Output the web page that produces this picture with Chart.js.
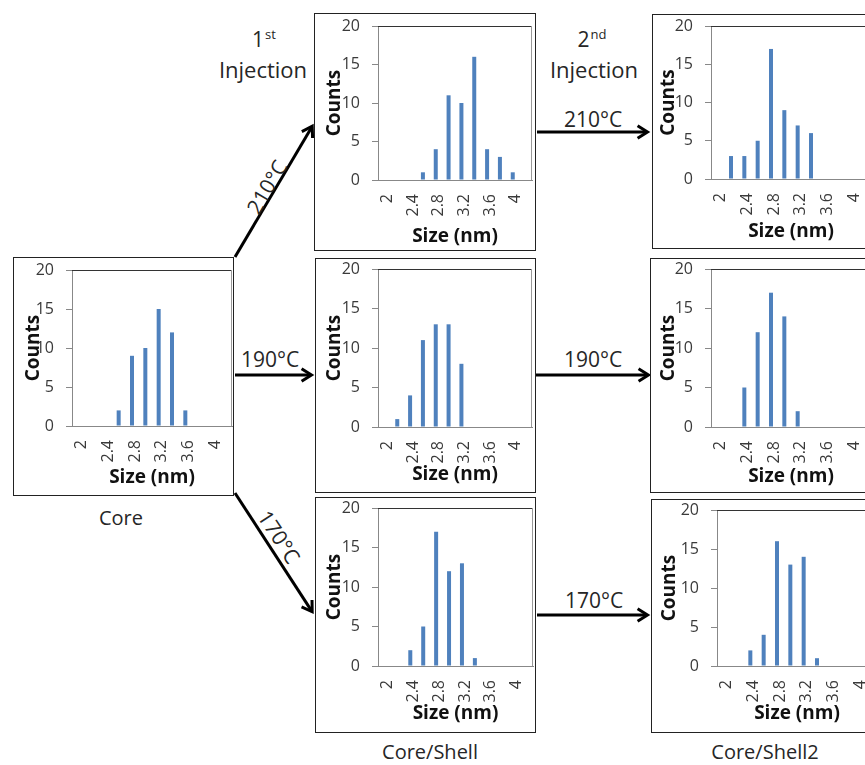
<!DOCTYPE html>
<html><head><meta charset="utf-8">
<script src="https://cdn.jsdelivr.net/npm/chart.js@4.4.0/dist/chart.umd.min.js"></script>
<style>
html,body{margin:0;padding:0;background:#fff;width:865px;height:765px;overflow:hidden;position:relative;font-family:"Open Sans",sans-serif;}
.box{position:absolute;border:1px solid #222;box-sizing:border-box;background:#fff;overflow:hidden;}
.box canvas{position:absolute;left:0;top:0;}
.lbl{position:absolute;transform:translate(-50%,-50%);white-space:nowrap;line-height:1;color:#262626;font-size:20px;}
.lbl sup{font-size:13px;vertical-align:0;position:relative;top:-8px;margin-left:1px;}
#arrows{position:absolute;left:0;top:0;}
</style></head><body>
<svg id="arrows" width="865" height="765"></svg>
<script>
// ---------- data ----------
const sizeCategories = ['2','2.2','2.4','2.6','2.8','3','3.2','3.4','3.6','3.8','4','4.2'];
const sizeTickLabels = ['2','','2.4','','2.8','','3.2','','3.6','','4',''];
const countMin = 0, countMax = 20, countStep = 5;
const coreCounts        = [0,0,0,2,9,10,15,12,2,0,0,0];
const shell210Counts    = [0,0,0,1,4,11,10,16,4,3,1,0];
const shell190Counts    = [0,1,4,11,13,13,8,0,0,0,0,0];
const shell170Counts    = [0,0,2,5,17,12,13,1,0,0,0,0];
const shell2_210Counts  = [0,3,3,5,17,9,7,6,0,0,0,0];
const shell2_190Counts  = [0,0,5,12,17,14,2,0,0,0,0,0];
const shell2_170Counts  = [0,0,2,4,16,13,14,1,0,0,0,0];
const xTitle = 'Size (nm)';
const yTitle = 'Counts';

// ---------- layout (page pixels) ----------
const panels = [
  {data: coreCounts,       box:[13,257,221,239], plot:[72,270,232,426],  yTitleX:33.5, xTitleY:478},
  {data: shell210Counts,   box:[314,13,222,238], plot:[378,26,532,180],  yTitleX:335,  xTitleY:237},
  {data: shell190Counts,   box:[315,258,221,235],plot:[378,269,532,427], yTitleX:335,  xTitleY:475},
  {data: shell170Counts,   box:[315,497,221,236],plot:[378,508,533,666], yTitleX:335,  xTitleY:714},
  {data: shell2_210Counts, box:[652,14,232,235], plot:[711,26,871,179],  yTitleX:669,  xTitleY:232},
  {data: shell2_190Counts, box:[650,258,232,235],plot:[711,269,871,427], yTitleX:669,  xTitleY:477},
  {data: shell2_170Counts, box:[651,499,232,234],plot:[717,510,877,666], yTitleX:670,  xTitleY:714}
];

const frame = {
  id:'frame',
  afterDatasetsDraw(chart){
    const {ctx, chartArea:{left,top,right,bottom}} = chart;
    ctx.save();
    ctx.lineWidth = 1;
    ctx.strokeStyle = '#333';
    ctx.beginPath(); ctx.moveTo(left, top+0.5); ctx.lineTo(right, top+0.5); ctx.stroke();
    ctx.strokeStyle = '#999';
    ctx.beginPath(); ctx.moveTo(right-0.5, top); ctx.lineTo(right-0.5, bottom); ctx.stroke();
    ctx.restore();
  }
};

panels.forEach(p => {
  const [bx,by,bw,bh] = p.box;
  const [L,T,R,B] = p.plot;
  const div = document.createElement('div');
  div.className = 'box';
  div.style.left = bx+'px'; div.style.top = by+'px';
  div.style.width = bw+'px'; div.style.height = bh+'px';
  const cv = document.createElement('canvas');
  const cx = bx+1, cy = by+1, cw = bw-2, ch = bh-2;
  cv.width = cw; cv.height = ch;
  div.appendChild(cv);
  document.body.appendChild(div);
  const yW = L - cx;
  const xH = (cy+ch) - B;
  const yLh = 19*1.2, xLh = 19*1.2;
  new Chart(cv, {
    type:'bar',
    data:{labels:sizeCategories, datasets:[{data:p.data, backgroundColor:'#4F81BD', borderWidth:0, barThickness:4, inflateAmount:0}]},
    options:{
      responsive:false, animation:false, devicePixelRatio:1,
      layout:{padding:{left:0, top:T-cy, right:(cx+cw)-R, bottom:0}},
      plugins:{legend:{display:false}, tooltip:{enabled:false}},
      scales:{
        x:{
          grid:{display:true, drawOnChartArea:false, drawTicks:false},
          border:{display:true, color:'#888', width:1},
          ticks:{autoSkip:false, minRotation:90, maxRotation:90, padding:14, labelOffset:3,
                 color:'#3a3a3a', font:{family:'Open Sans', size:16},
                 callback:(v,i)=>sizeTickLabels[i]},
          title:{display:true, text:xTitle, color:'#111', font:{family:'Open Sans', size:19, weight:'bold', lineHeight:1.2},
                 padding:{top:0, bottom:(cy+ch) - p.xTitleY - xLh/2}},
          afterFit:(s)=>{ s.height = xH; s.paddingLeft = 0; s.paddingRight = 0; }
        },
        y:{
          min:countMin, max:countMax,
          grid:{display:true, drawOnChartArea:false, drawTicks:true, tickLength:6, color:'#888'},
          border:{display:true, color:'#888', width:1},
          ticks:{stepSize:countStep, padding:12, color:'#3a3a3a', font:{family:'Open Sans', size:16}},
          title:{display:true, text:yTitle, color:'#111', font:{family:'Open Sans', size:19, weight:'bold', lineHeight:1.2},
                 padding:{top:p.yTitleX - cx - yLh/2, bottom:0}},
          afterFit:(s)=>{ s.width = yW; s.paddingTop = 0; s.paddingBottom = 0; }
        }
      }
    },
    plugins:[frame]
  });
});

// ---------- labels ----------
const labels = [
  {html:'1<sup>st</sup>', x:264, y:39, size:21},
  {html:'Injection', x:263, y:68.5, size:22},
  {html:'2<sup>nd</sup>', x:592, y:39, size:21},
  {html:'Injection', x:594, y:68.5, size:22},
  {html:'210°C', x:267, y:187, size:21, rot:-59.4},
  {html:'190°C', x:270, y:359, size:21},
  {html:'170°C', x:279, y:537, size:21, rot:57},
  {html:'210°C', x:593, y:119, size:21},
  {html:'190°C', x:593, y:359, size:21},
  {html:'170°C', x:594, y:600, size:21},
  {html:'Core', x:121, y:518, size:20},
  {html:'Core/Shell', x:430, y:752, size:20},
  {html:'Core/Shell2', x:765, y:752, size:20}
];
labels.forEach(l => {
  const d = document.createElement('div');
  d.className = 'lbl';
  d.innerHTML = l.html;
  d.style.left = l.x+'px'; d.style.top = l.y+'px';
  d.style.fontSize = l.size+'px';
  d.style.transform = 'translate(-50%,-50%)' + (l.rot ? ' rotate('+l.rot+'deg)' : '');
  document.body.appendChild(d);
});

// ---------- arrows ----------
const arrows = [
  [235,257,313,125],[235,375,313,375],[235,493,313,613],
  [537,132,649,132],[536,375,650,375],[537,615,649,615]
];
const svg = document.getElementById('arrows');
const NS = 'http://www.w3.org/2000/svg';
arrows.forEach(([x1,y1,x2,y2]) => {
  const ang = Math.atan2(y2-y1, x2-x1);
  const len = 13, spread = 0.5;
  const ex = x2 - Math.cos(ang)*2, ey = y2 - Math.sin(ang)*2;
  const line = document.createElementNS(NS,'line');
  line.setAttribute('x1',x1); line.setAttribute('y1',y1);
  line.setAttribute('x2',ex); line.setAttribute('y2',ey);
  line.setAttribute('stroke','#000'); line.setAttribute('stroke-width','3');
  svg.appendChild(line);
  const w1x = x2 - len*Math.cos(ang-spread), w1y = y2 - len*Math.sin(ang-spread);
  const w2x = x2 - len*Math.cos(ang+spread), w2y = y2 - len*Math.sin(ang+spread);
  const pl = document.createElementNS(NS,'polyline');
  pl.setAttribute('points', `${w1x},${w1y} ${x2-Math.cos(ang)*1.5},${y2-Math.sin(ang)*1.5} ${w2x},${w2y}`);
  pl.setAttribute('fill','none'); pl.setAttribute('stroke','#000'); pl.setAttribute('stroke-width','3');
  pl.setAttribute('stroke-linejoin','miter');
  svg.appendChild(pl);
});
</script>
</body></html>
